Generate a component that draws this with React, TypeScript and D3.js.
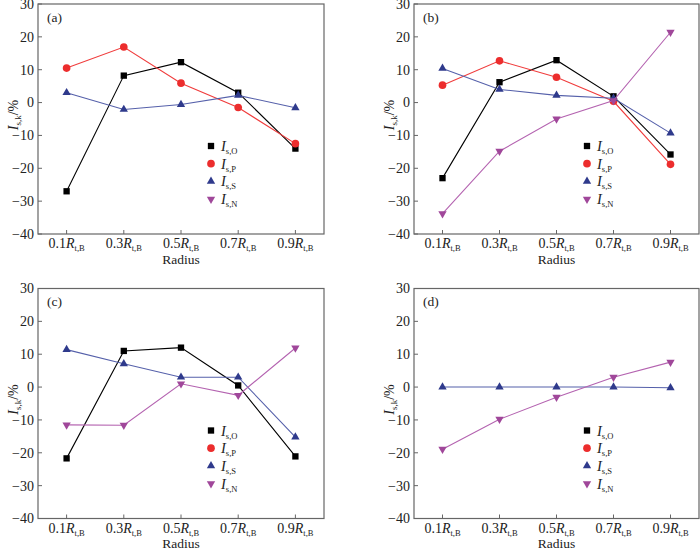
import React from "react";
import * as d3 from "d3";

const radius = [0.1, 0.3, 0.5, 0.7, 0.9];
const tickNums = ["0.1", "0.3", "0.5", "0.7", "0.9"];
const yTicks = [-40, -30, -20, -10, 0, 10, 20, 30];

const aO = [-27, 8.2, 12.3, 3, -14];
const aP = [10.5, 16.9, 5.9, -1.5, -12.5];
const aS = [3, -2.1, -0.6, 2.2, -1.6];

const bO = [-23, 6.2, 12.9, 1.9, -15.8];
const bP = [5.3, 12.7, 7.7, 0.4, -18.8];
const bS = [10.4, 4, 2.2, 1.3, -9.3];
const bN = [-33.8, -14.8, -5, 0.6, 21.4];

const cO = [-21.7, 11, 12, 0.5, -21.1];
const cS = [11.4, 7.1, 3, 3, -15.2];
const cN = [-11.5, -11.6, 1, -2.5, 11.9];

const dS = [0, 0, 0, 0, -0.2];
const dN = [-18.9, -9.8, -3.1, 3, 7.6];

const legendSubs = ["s,O", "s,P", "s,S", "s,N"];

type Kind = "O" | "P" | "S" | "N";
const styles: Record<Kind, { line: string; fill: string; sym: any; size: number; rot: number }> = {
  O: { line: "#000000", fill: "#000000", sym: d3.symbolSquare, size: 40, rot: 0 },
  P: { line: "#f03c3c", fill: "#ec2d2d", sym: d3.symbolCircle, size: 46, rot: 0 },
  S: { line: "#5560aa", fill: "#2f3a8c", sym: d3.symbolTriangle, size: 30, rot: 0 },
  N: { line: "#b463b0", fill: "#a0479a", sym: d3.symbolTriangle, size: 30, rot: 180 },
};
const kinds: Kind[] = ["O", "P", "S", "N"];

type Series = { kind: Kind; values: number[] };
type PanelDef = { label: string; left: number; top: number; width: number; series: Series[] };

const panels: PanelDef[] = [
  { label: "(a)", left: 38, top: 4, width: 286, series: [
    { kind: "O", values: aO }, { kind: "P", values: aP }, { kind: "S", values: aS }] },
  { label: "(b)", left: 414, top: 4, width: 285, series: [
    { kind: "O", values: bO }, { kind: "P", values: bP }, { kind: "S", values: bS }, { kind: "N", values: bN }] },
  { label: "(c)", left: 38, top: 288.5, width: 286, series: [
    { kind: "O", values: cO }, { kind: "S", values: cS }, { kind: "N", values: cN }] },
  { label: "(d)", left: 414, top: 288.5, width: 285, series: [
    { kind: "S", values: dS }, { kind: "N", values: dN }] },
];

const H = 230;
const AX = "#666666";
const FONT = "Liberation Serif, Times New Roman, Times, serif";

function Panel({ p }: { p: PanelDef }) {
  const x = d3.scaleLinear().domain([0, 1]).range([p.left, p.left + p.width]);
  const y = d3.scaleLinear().domain([-40, 30]).range([p.top + H, p.top]);
  const line = d3.line<number>().x((_, i) => x(radius[i])).y((d) => y(d));
  const bottom = p.top + H;
  const legX = p.left + 173;
  const legY0 = p.top + 142;
  return (
    <g style={{ fontFamily: FONT }} fill="#222">
      <rect x={p.left} y={p.top} width={p.width} height={H} fill="none" stroke={AX} strokeWidth={1.2} />
      {yTicks.map((t) => (
        <g key={t}>
          <line x1={p.left} x2={p.left + 4} y1={y(t)} y2={y(t)} stroke={AX} strokeWidth={1} />
          <text x={p.left - 4} y={y(t)} dy="0.35em" textAnchor="end" fontSize={14}>
            {t < 0 ? "\u2212" + Math.abs(t) : String(t)}
          </text>
        </g>
      ))}
      {radius.map((r, i) => (
        <g key={r}>
          <line x1={x(r)} x2={x(r)} y1={bottom} y2={bottom - 4} stroke={AX} strokeWidth={1} />
          <text x={x(r)} y={bottom + 14} textAnchor="middle" fontSize={14}>
            {tickNums[i]}
            <tspan fontStyle="italic">R</tspan>
            <tspan fontSize={8.5} dy={3}>t,B</tspan>
          </text>
        </g>
      ))}
      <text x={(p.left + p.left + p.width) / 2} y={bottom + 29.5} textAnchor="middle" fontSize={13.5}>Radius</text>
      <text transform={`translate(${p.left - 20},${p.top + 111}) rotate(-90)`} textAnchor="middle" fontSize={14}>
        <tspan fontStyle="italic">I</tspan>
        <tspan fontSize={9} dy={3}>s,k</tspan>
        <tspan dy={-3}>/%</tspan>
      </text>
      <text x={p.left + 9} y={p.top + 17.5} fontSize={13.5}>{p.label}</text>
      {p.series.map((s) => {
        const st = styles[s.kind];
        const sym = d3.symbol().type(st.sym).size(st.size)();
        return (
          <g key={s.kind}>
            <path d={line(s.values) || ""} fill="none" stroke={st.line} strokeWidth={1.1} />
            {s.values.map((v, i) => (
              <path key={i} d={sym || ""} fill={st.fill}
                transform={`translate(${x(radius[i])},${y(v)}) rotate(${st.rot})`} />
            ))}
          </g>
        );
      })}
      {kinds.map((k, i) => {
        const st = styles[k];
        const sym = d3.symbol().type(st.sym).size(st.size)();
        const yy = legY0 + i * 17.7;
        return (
          <g key={k}>
            <path d={sym || ""} fill={st.fill} transform={`translate(${legX},${yy}) rotate(${st.rot})`} />
            <text x={legX + 10} y={yy + 5} fontSize={14.5}>
              <tspan fontStyle="italic">I</tspan>
              <tspan fontSize={8.5} dy={3}>{legendSubs[i]}</tspan>
            </text>
          </g>
        );
      })}
    </g>
  );
}

export default function App() {
  return (
    <svg width={700} height={551} style={{ position: "absolute", left: 0, top: 0, background: "#fff" }}>
      <rect width={700} height={551} fill="#fff" />
      {panels.map((p) => <Panel key={p.label} p={p} />)}
    </svg>
  );
}
